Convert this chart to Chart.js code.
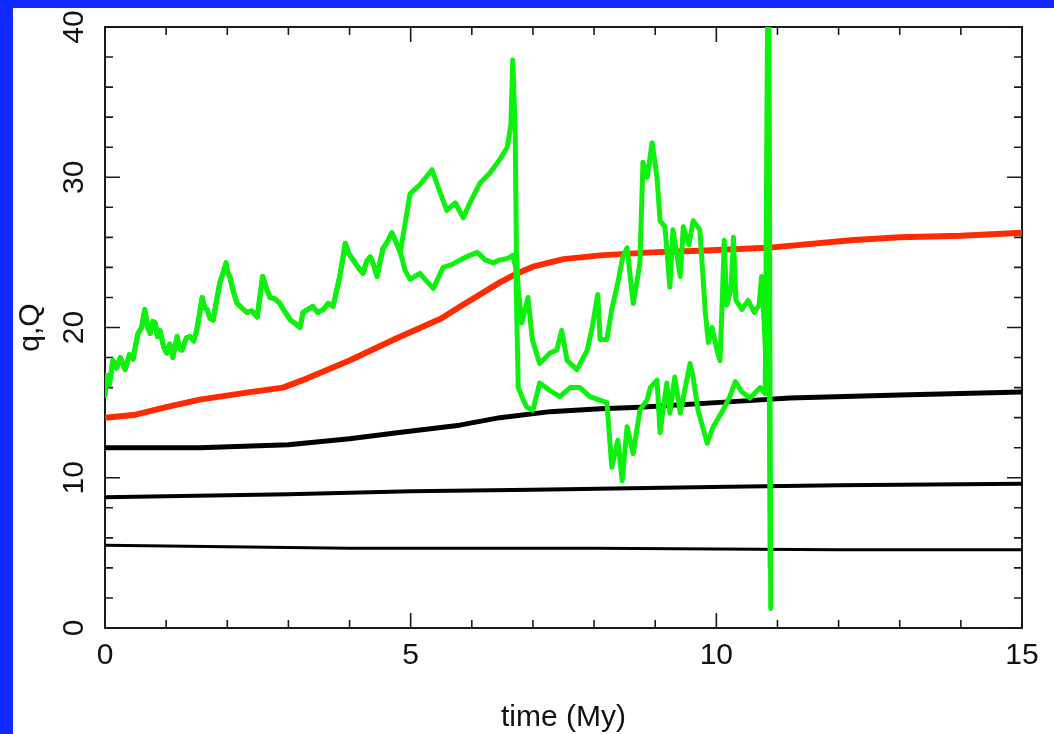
<!DOCTYPE html>
<html>
<head>
<meta charset="utf-8">
<script src="https://cdn.jsdelivr.net/npm/chart.js@4.4.1/dist/chart.umd.min.js"></script>
<style>
  html, body { margin: 0; padding: 0; background: #102aff; overflow: hidden; }
  #wrap { position: absolute; left: 13px; top: 8px; width: 1041px; height: 726px; background: #fff; }
  canvas { display: block; }
</style>
</head>
<body>
<div id="wrap"><canvas id="myChart" width="1041" height="726"></canvas></div>
<script>
// axis ticks
var xTickLabels = [0, 5, 10, 15];
var yTickLabels = [0, 10, 20, 30, 40];
var xMinorTicks = [0, 1, 2, 3, 4, 5, 6, 7, 8, 9, 10, 11, 12, 13, 14, 15];
var yMinorTicks = [0, 2, 4, 6, 8, 10, 12, 14, 16, 18, 20, 22, 24, 26, 28, 30, 32, 34, 36, 38, 40];

// green, common part of both runs (t < 4.83 My)
var tGreenEarly = [0, 0.03, 0.07, 0.13, 0.19, 0.25, 0.29, 0.33, 0.40, 0.46, 0.50, 0.54, 0.60, 0.65, 0.70,
  0.74, 0.78, 0.82, 0.86, 0.90, 0.96, 1.01, 1.06, 1.11, 1.15, 1.18, 1.22, 1.26, 1.33, 1.39, 1.45, 1.50,
  1.55, 1.59, 1.63, 1.67, 1.72, 1.77, 1.82, 1.88, 1.93, 1.98, 2.01, 2.04, 2.10, 2.16, 2.24, 2.32, 2.40,
  2.49, 2.54, 2.58, 2.64, 2.70, 2.78, 2.86, 2.95, 3.03, 3.10, 3.19, 3.24, 3.32, 3.40, 3.48, 3.57, 3.65,
  3.73, 3.78, 3.84, 3.89, 3.93, 3.99, 4.06, 4.14, 4.22, 4.28, 4.34, 4.40, 4.45, 4.50, 4.55, 4.62, 4.69,
  4.74, 4.78, 4.83];
var qGreenEarly = [15.5, 16.8, 16.2, 17.8, 17.3, 18.0, 17.6, 17.2, 18.2, 17.9, 18.8, 19.6, 20.0, 21.2, 20.0,
  19.6, 20.4, 20.3, 19.4, 19.8, 18.7, 18.3, 18.9, 18.0, 18.8, 19.4, 18.6, 18.5, 19.3, 19.4, 19.1, 19.8,
  21.0, 22.0, 21.3, 21.2, 20.6, 20.5, 21.7, 23.0, 23.6, 24.3, 23.6, 23.4, 22.4, 21.6, 21.3, 21.0, 21.1,
  20.7, 22.2, 23.4, 22.6, 22.0, 21.9, 21.6, 21.0, 20.5, 20.3, 20.0, 21.0, 21.2, 21.4, 21.0, 21.2, 21.6,
  21.4, 22.3, 23.4, 24.6, 25.6, 24.9, 24.5, 24.0, 23.6, 24.4, 24.7, 24.1, 23.4, 24.4, 25.3, 25.7, 26.3,
  25.9, 25.5, 25.0];

// green, upper run after the split
var tGreenA = [4.99, 5.15, 5.35, 5.48, 5.59, 5.73, 5.86, 5.97, 6.13, 6.30, 6.46, 6.58, 6.64, 6.67, 6.71,
  6.73, 6.76, 6.82, 6.92, 6.99, 7.11, 7.28, 7.39, 7.47, 7.56, 7.72, 7.89, 7.97, 8.06, 8.10, 8.21, 8.29,
  8.39, 8.47, 8.54, 8.64, 8.70, 8.75, 8.80, 8.87, 8.95, 9.03, 9.08, 9.16, 9.24, 9.29, 9.41, 9.46, 9.55,
  9.62, 9.73, 9.78, 9.82, 9.87, 9.93, 10.01, 10.06, 10.09, 10.13, 10.17, 10.24, 10.28, 10.32, 10.42,
  10.52, 10.62, 10.70, 10.74, 10.78, 10.83, 10.86, 10.89];
var qGreenA = [28.9, 29.5, 30.5, 29.0, 27.8, 28.3, 27.3, 28.3, 29.6, 30.3, 31.2, 32.0, 33.5, 37.8, 33.0,
  25.0, 22.5, 20.3, 22.0, 19.2, 17.6, 18.3, 18.5, 19.8, 17.8, 17.2, 18.5, 20.0, 22.2, 19.2, 19.2, 21.2,
  23.0, 24.7, 25.3, 21.6, 23.0, 24.3, 31.0, 30.0, 32.3, 30.0, 27.1, 26.7, 22.7, 26.5, 23.4, 26.7, 25.5,
  27.1, 26.5, 23.5, 21.0, 19.0, 20.0, 18.5, 17.8, 21.0, 25.8, 21.5, 22.5, 26.0, 21.8, 21.2,
  21.8, 21.0, 21.5, 23.4, 20.5, 16.0, 42.0, 1.3];

// green, lower run after the split
var tGreenB = [4.91, 4.99, 5.15, 5.28, 5.37, 5.53, 5.68, 5.81, 5.97, 6.09, 6.22, 6.35, 6.46, 6.59, 6.67,
  6.72, 6.76, 6.84, 6.90, 7.00, 7.11, 7.28, 7.44, 7.61, 7.77, 7.93, 8.21, 8.29, 8.39, 8.46, 8.54, 8.64,
  8.75, 8.87, 8.92, 9.03, 9.08, 9.19, 9.24, 9.32, 9.41, 9.57, 9.62, 9.70, 9.85, 9.95, 10.11, 10.22,
  10.31, 10.42, 10.55, 10.72, 10.80, 10.84, 10.88];
var qGreenB = [23.8, 23.2, 23.6, 23.0, 22.6, 24.0, 24.2, 24.5, 24.8, 25.0, 24.5, 24.3, 24.5, 24.6, 24.8,
  24.0, 16.0, 15.2, 14.7, 14.5, 16.3, 15.8, 15.4, 16.0, 16.0, 15.4, 15.0, 10.7, 12.5, 9.8, 13.4, 11.6,
  14.5, 15.2, 16.0, 16.5, 13.0, 16.3, 14.3, 16.7, 14.3, 17.6, 16.7, 14.5, 12.3, 13.4, 14.5, 15.4,
  16.4, 15.7, 15.3, 16.0, 15.6, 42.0, 4.0];

// red
var tRed = [0, 0.5, 1.0, 1.55, 2.37, 2.91, 3.3, 4.0, 4.78, 5.5, 5.81, 6.46, 6.74, 7.0, 7.5, 8.1, 8.92,
  9.73, 10.83, 12.2, 13.0, 14.0, 15.0];
var qRed = [14.0, 14.2, 14.7, 15.2, 15.7, 16.0, 16.6, 17.8, 19.3, 20.6, 21.4, 23.0, 23.6, 24.05, 24.55,
  24.8, 25.0, 25.1, 25.3, 25.8, 26.0, 26.1, 26.3];

// black lines
var tBlackTop = [0, 1.55, 3.0, 4.0, 4.78, 5.8, 6.46, 7.28, 8.1, 8.75, 10.4, 11.2, 13.0, 15.0];
var qBlackTop = [12.0, 12.0, 12.2, 12.6, 13.0, 13.5, 14.0, 14.4, 14.6, 14.7, 15.1, 15.3, 15.5, 15.7];
var tBlackMid = [0, 3, 5, 7, 10.2, 12, 15];
var qBlackMid = [8.7, 8.9, 9.1, 9.2, 9.4, 9.5, 9.6];
var tBlackLow = [0, 4, 8, 12, 15];
var qBlackLow = [5.5, 5.3, 5.3, 5.2, 5.2];

function pts(ts, qs) {
  return ts.map(function (t, i) { return { x: t, y: qs[i] }; });
}

var green = '#0ef00e';
var fontFamily = '"Liberation Sans", Arial, sans-serif';

var frameTicks = {
  id: 'frameTicks',
  beforeDatasetsDraw: function (chart) {
    var ctx = chart.ctx, a = chart.chartArea, x = chart.scales.x, y = chart.scales.y;
    ctx.save();
    ctx.strokeStyle = '#1a1a1a';
    ctx.lineWidth = 2;
    ctx.strokeRect(a.left, a.top, a.right - a.left, a.bottom - a.top);
    ctx.lineWidth = 1.6;
    ctx.beginPath();
    xMinorTicks.forEach(function (t) {
      var px = x.getPixelForValue(t);
      var len = xTickLabels.indexOf(t) >= 0 ? 15 : 8;
      ctx.moveTo(px, a.bottom); ctx.lineTo(px, a.bottom - len);
      ctx.moveTo(px, a.top); ctx.lineTo(px, a.top + len);
    });
    yMinorTicks.forEach(function (v) {
      var py = y.getPixelForValue(v);
      var len = yTickLabels.indexOf(v) >= 0 ? 15 : 8;
      ctx.moveTo(a.left, py); ctx.lineTo(a.left + len, py);
      ctx.moveTo(a.right, py); ctx.lineTo(a.right - len, py);
    });
    ctx.stroke();
    ctx.restore();
  }
};

var ctx = document.getElementById('myChart').getContext('2d');
var myChart = new Chart(ctx, {
  type: 'line',
  data: {
    datasets: [
      { label: 'Q run 1', data: pts(tGreenEarly.concat(tGreenA), qGreenEarly.concat(qGreenA)),
        borderColor: green, borderWidth: 5 },
      { label: 'Q run 2', data: pts(tGreenEarly.concat(tGreenB), qGreenEarly.concat(qGreenB)),
        borderColor: green, borderWidth: 5 },
      { label: 'red', data: pts(tRed, qRed), borderColor: '#ff2a00', borderWidth: 6 },
      { label: 'q1', data: pts(tBlackTop, qBlackTop), borderColor: '#000', borderWidth: 5 },
      { label: 'q2', data: pts(tBlackMid, qBlackMid), borderColor: '#000', borderWidth: 4 },
      { label: 'q3', data: pts(tBlackLow, qBlackLow), borderColor: '#000', borderWidth: 3 }
    ]
  },
  options: {
    responsive: false,
    animation: false,
    devicePixelRatio: 1,
    layout: { padding: { left: 0, top: 19, right: 32, bottom: 0 } },
    elements: {
      point: { radius: 0 },
      line: { tension: 0, fill: false, borderJoinStyle: 'round', borderCapStyle: 'round' }
    },
    plugins: { legend: { display: false }, tooltip: { enabled: false } },
    scales: {
      x: {
        type: 'linear', min: 0, max: 15,
        grid: { display: false, drawTicks: false },
        border: { display: false },
        afterBuildTicks: function (s) { s.ticks = xTickLabels.map(function (v) { return { value: v }; }); },
        afterFit: function (s) { s.height = 106; s.paddingLeft = 0; s.paddingRight = 0; },
        ticks: { font: { family: fontFamily, size: 30, lineHeight: 1 }, color: '#111', padding: 13,
                 maxRotation: 0, autoSkip: false },
        title: { display: true, text: 'time (My)', color: '#111',
                 font: { family: fontFamily, size: 30, lineHeight: 1 }, padding: { top: 0, bottom: 1 } }
      },
      y: {
        type: 'linear', min: 0, max: 40,
        grid: { display: false, drawTicks: false },
        border: { display: false },
        afterBuildTicks: function (s) { s.ticks = yTickLabels.map(function (v) { return { value: v }; }); },
        afterFit: function (s) { s.width = 92; s.paddingTop = 0; s.paddingBottom = 0; },
        ticks: { font: { family: fontFamily, size: 30, lineHeight: 1 }, color: '#111', padding: 14,
                 minRotation: 90, maxRotation: 90, crossAlign: 'center', autoSkip: false },
        title: { display: true, text: 'q,Q', color: '#111',
                 font: { family: fontFamily, size: 30, lineHeight: 1 }, padding: { top: 3, bottom: 0 } }
      }
    }
  },
  plugins: [frameTicks]
});
</script>
</body>
</html>
